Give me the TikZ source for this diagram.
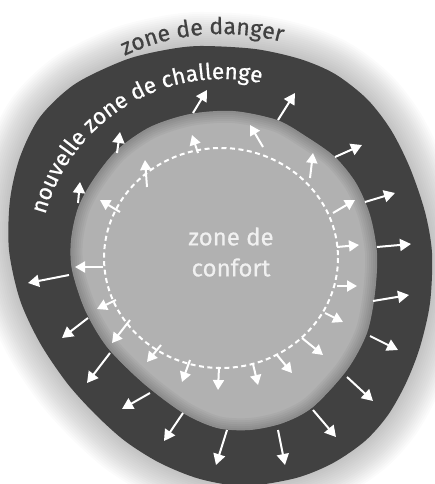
\documentclass[tikz,border=0pt]{standalone}
\usepackage{fontspec}
\setmainfont{Fira Sans}[FakeBold=0.6]
\usepackage{tikz}
\usetikzlibrary{arrows.meta,decorations.text}

\definecolor{bandgray}{HTML}{414141}
\definecolor{comfortgray}{HTML}{B1B1B1}

% outline of the two zones (pixel grid, y downwards)
\def\outerblob{plot[smooth cycle] coordinates {(200,46) (255,49) (300,59) (335,74) (367,99) (391,130) (410,168) (425,212) (432,253) (430,303) (420,347) (406,383) (388,415) (365,441) (333,463) (296,478) (245,486) (200,479) (160,463) (125,441) (95,414) (67,383) (40,343) (20,300) (9,250) (10,200) (20,157) (40,117) (75,84) (125,60) (165,50)}}
\def\innerblob{plot[smooth cycle] coordinates {(233,111) (277,120) (307,137) (335,157) (356,183) (370,215) (377,253) (375,293) (367,333) (347,370) (313,407) (283,423) (250,430) (217,428) (183,413) (143,383) (107,347) (85,310) (72,270) (71,240) (78,208) (93,180) (117,150) (150,127) (190,114)}}

\begin{document}
\begin{tikzpicture}[x=1pt,y=-1pt,
  outarrow/.style={white,line width=2pt,-{Triangle[length=11pt,width=12pt]}},
  inarrow/.style={white,line width=2pt,-{Triangle[length=10pt,width=11pt]}}]
\useasboundingbox (0,0) rectangle (434,484);

% Halo
\foreach \w in {4,8,...,68}
  \draw[line width=\w pt,black,opacity=0.016,line join=round] \outerblob;

% Zones
\fill[bandgray] \outerblob;
\fill[comfortgray] \innerblob;
\begin{scope}
  \clip \innerblob;
  \foreach \w in {4,8,...,24}
    \draw[line width=\w pt,black,opacity=0.035] \innerblob;
\end{scope}

% Comfort frontier
\coordinate (c) at (221,258);
\coordinate (o) at (222,262);
\draw[white,line width=2pt,dash pattern=on 5pt off 3.5pt] (c) ellipse [x radius=117,y radius=110];

% Outer arrows
\foreach \xa/\ya/\xb/\yb in {78/203/80/182, 117/153/120/132, 193/113/207/90,
    278/120/295/93, 335/157/362/145, 365/202/395/193, 377/247/411/244,
    373/301/409/295, 370/336/398/350, 347/377/373/401, 313/410/336/437,
    278/430/285/465, 227/430/216/465, 183/413/164/441, 150/393/122/409,
    110/353/87/383, 88/318/62/338, 69/275/28/283}
  \draw[outarrow] (\xa,\ya) -- (\xb,\yb);

% Inner arrows
\foreach \xa/\ya/\xb/\yb in {120/212/100/200, 147/187/145/160, 198/153/192/135,
    263/147/250/125, 310/178/313/153, 333/213/355/200, 337/247/359/245,
    337/286/357/286, 325/313/343/322, 302/338/323/355, 277/355/292/373,
    253/364/258/385, 219/367/218/390, 190/360/182/382, 161/345/147/362,
    130/320/112/343, 116/300/97/309, 103/267/75/267}
  \draw[inarrow] (\xa,\ya) -- (\xb,\yb);

% Labels
\node[text=white!94!black,align=center,font=\fontsize{24}{31}\selectfont] (confort) at (231,252) {zone de\\confort};
\path[shift={(o)},decorate,decoration={text along path,text align=left,text color=white,
    text={|\fontsize{22.5}{26}\selectfont|nouvelle zone de challenge}}]
  (-165:183) arc[start angle=-165,end angle=-70,radius=183];
\path[shift={(o)},decorate,decoration={text along path,text align=center,text color=bandgray,
    text={|\fontsize{23}{26}\selectfont|zone de danger}}]
  (-121:228) arc[start angle=-121,end angle=-69,radius=228];
\end{tikzpicture}
\end{document}
